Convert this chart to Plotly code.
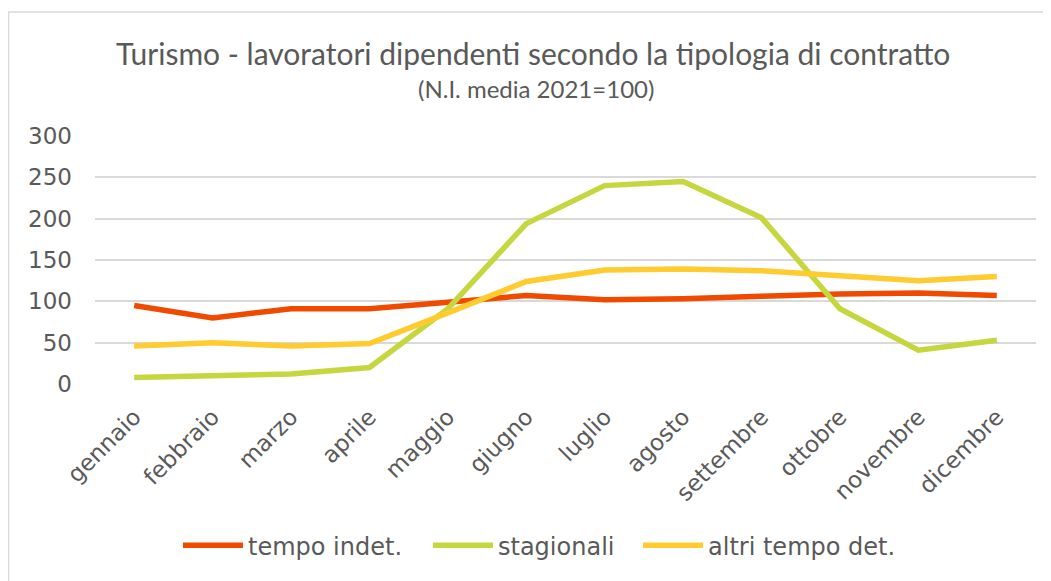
import plotly.graph_objects as go

months = ["gennaio", "febbraio", "marzo", "aprile", "maggio", "giugno",
          "luglio", "agosto", "settembre", "ottobre", "novembre", "dicembre"]
tempo_indet = [95, 80, 91, 91, 99, 107, 102, 103, 106, 109, 110, 107]
stagionali = [8, 10, 12, 20, 91, 194, 240, 245, 201, 91, 41, 53]
altri_tempo_det = [46, 50, 46, 49, 86, 124, 138, 139, 137, 131, 125, 130]

series_names = ["tempo indet.", "stagionali", "altri tempo det."]
colors = ["#F04A00", "#C5D63F", "#FFCB2F"]
legend_ids = ["legend", "legend2", "legend3"]

fig = go.Figure()
for name, vals, col, lg in zip(series_names, [tempo_indet, stagionali, altri_tempo_det], colors, legend_ids):
    fig.add_trace(go.Scatter(x=months, y=vals, name=name, mode="lines", legend=lg,
                             line=dict(color=col, width=5.5)))

# page has an 8px body margin, so the figure is offset by 8px
OFF = 8
W, H = 1051 - OFF, 581 - OFF
L, R, T, B = 95 - OFF, 15, 136 - OFF, 195
PW, PH = W - L - R, H - T - B


def px(xp):
    return (xp - OFF - L) / PW


def py(yp):
    return (H - B - (yp - OFF)) / PH


def leg(xp):
    return dict(orientation="h", x=px(xp), xanchor="left", y=py(549), yanchor="middle",
                font=dict(size=24, color="#595959"), itemwidth=60,
                bgcolor="rgba(0,0,0,0)")


fig.update_layout(
    width=W, height=H,
    margin=dict(l=L, r=R, t=T, b=B, pad=0),
    paper_bgcolor="white", plot_bgcolor="white",
    font=dict(family="DejaVu Sans", color="#595959", size=23),
    showlegend=True,
    legend=leg(178),
    legend2=leg(428),
    legend3=leg(638),
    xaxis=dict(type="category", showgrid=False, showline=False, zeroline=False,
               tickangle=-45, ticks="", tickfont=dict(size=23, color="#595959"),
               range=[-0.5, 11.5], ticklabelstandoff=14),
    yaxis=dict(range=[0, 300], dtick=50, showgrid=True, gridcolor="#D9D9D9", gridwidth=1.5,
               zeroline=False, showline=False, ticks="",
               tickfont=dict(size=23, color="#595959"), ticklabelstandoff=22),
    shapes=[dict(type="rect", xref="paper", yref="paper",
                 x0=px(8.5), x1=px(1070), y0=py(600), y1=py(11),
                 line=dict(color="#D9D9D9", width=1.5), fillcolor="rgba(0,0,0,0)",
                 layer="below")],
    annotations=[
        dict(text="Turismo - lavoratori dipendenti secondo la tipologia di contratto",
             xref="paper", yref="paper", x=px(533), y=py(52),
             xanchor="center", yanchor="middle", showarrow=False,
             font=dict(family="Lato", size=30, color="#595959")),
        dict(text="(N.I. media 2021=100)",
             xref="paper", yref="paper", x=px(536), y=py(88),
             xanchor="center", yanchor="middle", showarrow=False,
             font=dict(family="Lato", size=24, color="#595959")),
    ],
)

fig.write_html("out.html")
